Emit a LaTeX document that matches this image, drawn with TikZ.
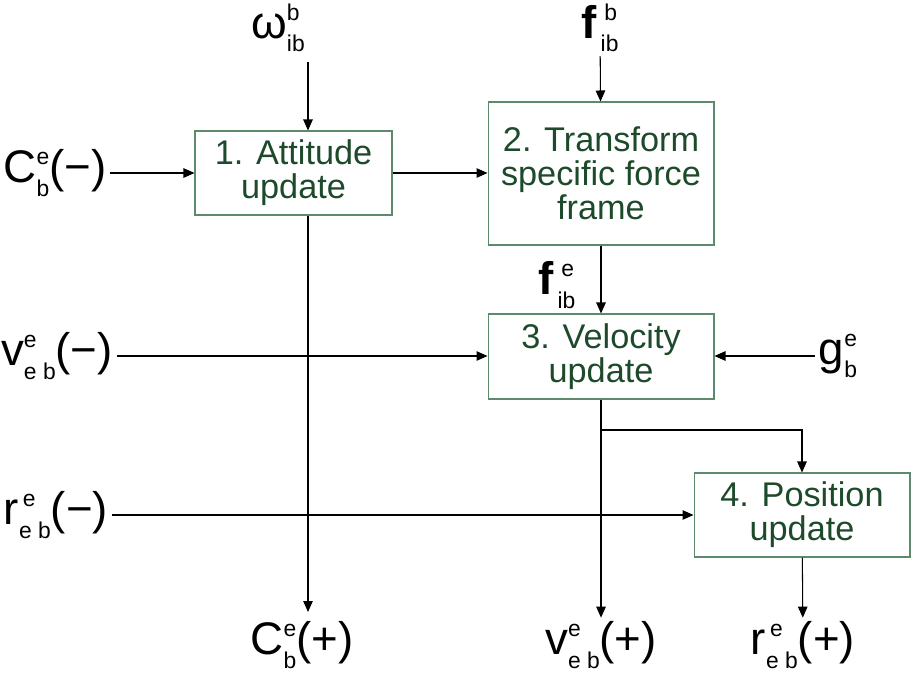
\documentclass[tikz,border=0pt]{standalone}
\usepackage{fontspec}
\setmainfont{Liberation Sans}
\usetikzlibrary{arrows.meta}
\definecolor{boxtext}{HTML}{1D4A2A}
\definecolor{boxline}{HTML}{5E8A6C}
% base symbol with stacked super- and subscript
\newcommand{\supsub}[3]{#1\rlap{\raisebox{0.75ex}{\fontsize{13}{13}\selectfont #2}}\raisebox{-0.55ex}{\fontsize{13}{13}\selectfont #3}}

\begin{document}
\begin{tikzpicture}[x=0.02cm,y=-0.02cm,line width=0.6pt,>={Triangle[length=0.22cm,width=0.19cm]}]
  \tikzstyle{box}=[draw=boxline,text=boxtext,align=center,font=\fontsize{19.5}{19.5}\selectfont,inner sep=0pt]
  \tikzstyle{sig}=[font=\fontsize{26}{28}\selectfont,inner sep=2pt]
  \useasboundingbox (0,0) rectangle (911,679);
  % blocks
  \node[box,minimum width=3.94cm,minimum height=1.68cm] (att) at (293.5,173) {1. Attitude\\update};
  \node[box,minimum width=4.52cm,minimum height=2.86cm] (trans) at (601,173.5) {2. Transform\\specific force\\frame};
  \node[box,minimum width=4.52cm,minimum height=1.7cm] (vel) at (601,356.5) {3. Velocity\\update};
  \node[box,minimum width=4.32cm,minimum height=1.68cm] (pos) at (802,515) {4. Position\\update};
  % inputs
  \node[sig] (w) at (278,28) {\supsub{ω}{b}{ib}};
  \node[sig] (fb) at (600,28) {\supsub{\textbf{f}}{\,\,b}{\,ib}};
  \node[sig] (fe) at (557,285) {\supsub{\textbf{f}}{\,\,e}{\,ib}};
  \node[sig] (cm) at (55,173) {\supsub{C}{e}{b}(−)};
  \node[sig] (vm) at (57,356) {\supsub{v}{e}{e b}(−)};
  \node[sig] (rm) at (56,515) {\supsub{r}{\,e}{e b}(−)};
  \node[sig] (g) at (838,356) {\supsub{g}{e}{b}};
  % outputs
  \node[sig] (cp) at (302,645) {\supsub{C}{e}{b}(+)};
  \node[sig] (vp) at (601,645) {\supsub{v}{e}{e b}(+)};
  \node[sig] (rp) at (803,645) {\supsub{r}{\,e}{e b}(+)};
  \coordinate (wx) at (308,62);
  \coordinate (cx) at (308,612);
  \coordinate (br) at (601,430);
  % connections
  \draw[->] (wx) -- (wx |- att.north);
  \draw[->] (fb) -- (trans);
  \draw[->] (cm) -- (att);
  \draw[->] (att) -- (att.east -| trans.west);
  \draw[->] (trans) -- (vel);
  \draw[->] (vm) -- (vm -| vel.west);
  \draw[->] (g) -- (g -| vel.east);
  \draw[->] (rm) -- (rm -| pos.west);
  \draw[->] (cx |- att.south) -- (cx);
  \draw[->] (vel) -- (vp);
  \draw[->] (br) -| (pos);
  \draw[->] (pos) -- (rp);
\end{tikzpicture}
\end{document}
